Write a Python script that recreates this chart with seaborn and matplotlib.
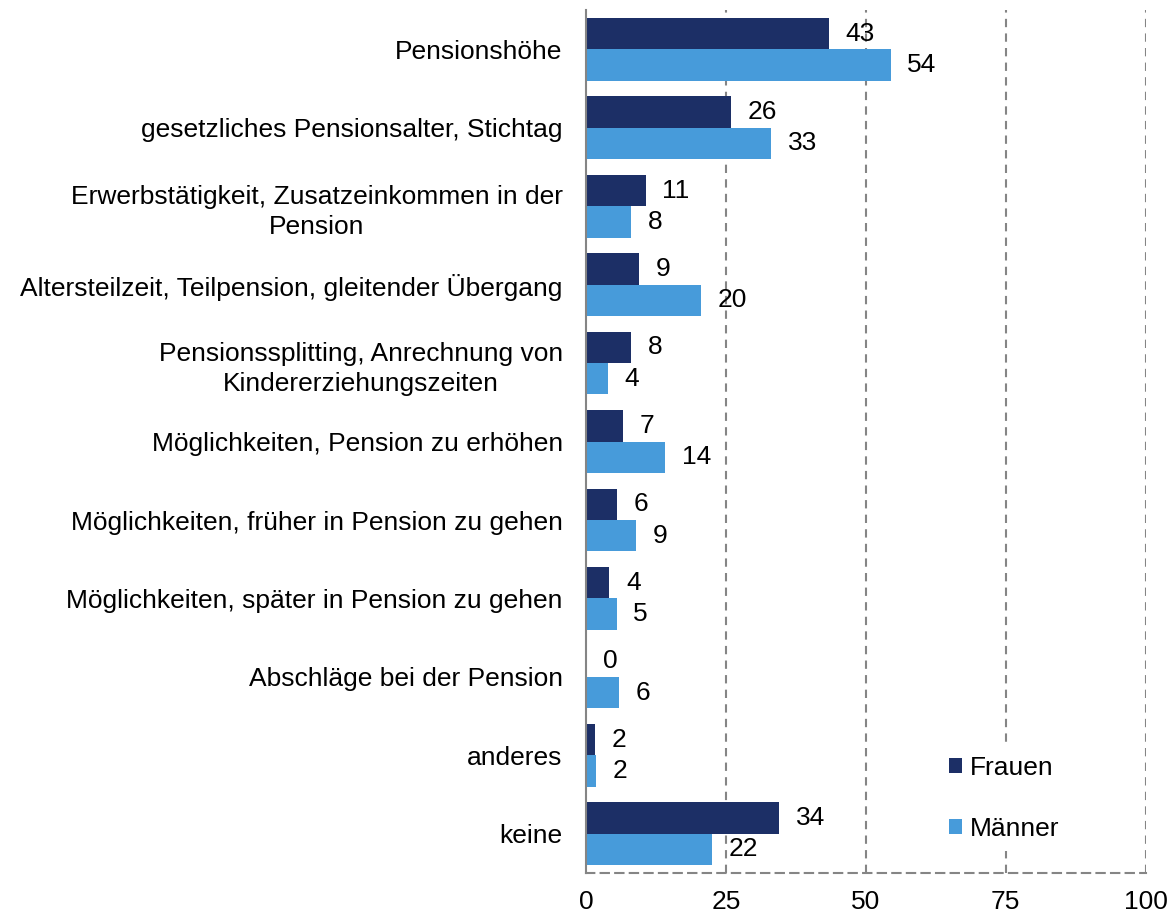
import pandas as pd
import seaborn as sns
import matplotlib.pyplot as plt
from matplotlib.ticker import FixedLocator

# Daten
kategorien = [
    "Pensionshöhe",
    "gesetzliches Pensionsalter, Stichtag",
    "Erwerbstätigkeit, Zusatzeinkommen in der\nPension",
    "Altersteilzeit, Teilpension, gleitender Übergang",
    "Pensionssplitting, Anrechnung von\nKindererziehungszeiten",
    "Möglichkeiten, Pension zu erhöhen",
    "Möglichkeiten, früher in Pension zu gehen",
    "Möglichkeiten, später in Pension zu gehen",
    "Abschläge bei der Pension",
    "anderes",
    "keine",
]
frauen = [43.4, 25.8, 10.6, 9.5, 8.0, 6.6, 5.5, 4.1, 0.0, 1.5, 34.5]
maenner = [54.4, 33.0, 8.0, 20.5, 3.8, 14.1, 8.9, 5.4, 5.9, 1.7, 22.5]
frauen_labels = [43, 26, 11, 9, 8, 7, 6, 4, 0, 2, 34]
maenner_labels = [54, 33, 8, 20, 4, 14, 9, 5, 6, 2, 22]

df = pd.DataFrame({
    "Kategorie": kategorien * 2,
    "Wert": frauen + maenner,
    "Geschlecht": ["Frauen"] * len(kategorien) + ["Männer"] * len(kategorien),
})

sns.set_style("white")
plt.rcParams["font.family"] = ["Liberation Sans", "DejaVu Sans"]
plt.rcParams["text.color"] = "black"
plt.rcParams["xtick.labelcolor"] = "black"
plt.rcParams["ytick.labelcolor"] = "black"

fig, ax = plt.subplots(figsize=(11.75, 9.18), dpi=100)
fig.subplots_adjust(left=0.499, right=0.975, top=0.989, bottom=0.049)

sns.barplot(data=df, x="Wert", y="Kategorie", hue="Geschlecht", orient="h",
            palette=["#1C2F66", "#479BDA"], width=0.8, saturation=1,
            linewidth=0, ax=ax, legend=True)

# Beschriftungen der Balken
for cont, labs in zip(ax.containers, [frauen_labels, maenner_labels]):
    ax.bar_label(cont, labels=[str(v) for v in labs], padding=12, fontsize=19)

ax.set_xlim(0, 100)
ax.set_ylim(10.5, -0.5)
ax.set_xticks([0, 25, 50, 75, 100])
ax.set_xlabel("")
ax.set_ylabel("")

# Gitter
for xv in [25, 50, 75, 100]:
    ax.axvline(xv, color="#858585", linestyle=(0, (4, 3)), linewidth=1.5, zorder=0)

for s in ["top", "right"]:
    ax.spines[s].set_visible(False)
ax.spines["left"].set_color("#858585")
ax.spines["left"].set_linewidth(1.5)
ax.spines["bottom"].set_color("#858585")
ax.spines["bottom"].set_linewidth(1.5)
ax.spines["bottom"].set_linestyle((0, (4, 3)))

ax.tick_params(axis="x", labelsize=19, colors="#858585", labelcolor="black",
               direction="out", length=6, width=1.5, pad=6)
ax.tick_params(axis="y", which="major", labelsize=19, length=0, pad=17)
ax.yaxis.set_minor_locator(FixedLocator([i - 0.5 for i in range(len(kategorien) + 1)]))
ax.tick_params(axis="y", which="minor", length=6, width=1.5, color="#858585",
               direction="out")
for t in ax.get_yticklabels():
    t.set_multialignment("center")
    t.set_linespacing(1.35)

leg = ax.legend(loc="upper left", bbox_to_anchor=(0.629, 0.148), fontsize=19,
                frameon=True, facecolor="white", edgecolor="none", framealpha=1,
                handlelength=0.5, handleheight=0.5, handletextpad=0.3,
                labelspacing=1.4, borderpad=0.4, borderaxespad=0)

plt.savefig("out.png", dpi=100)
